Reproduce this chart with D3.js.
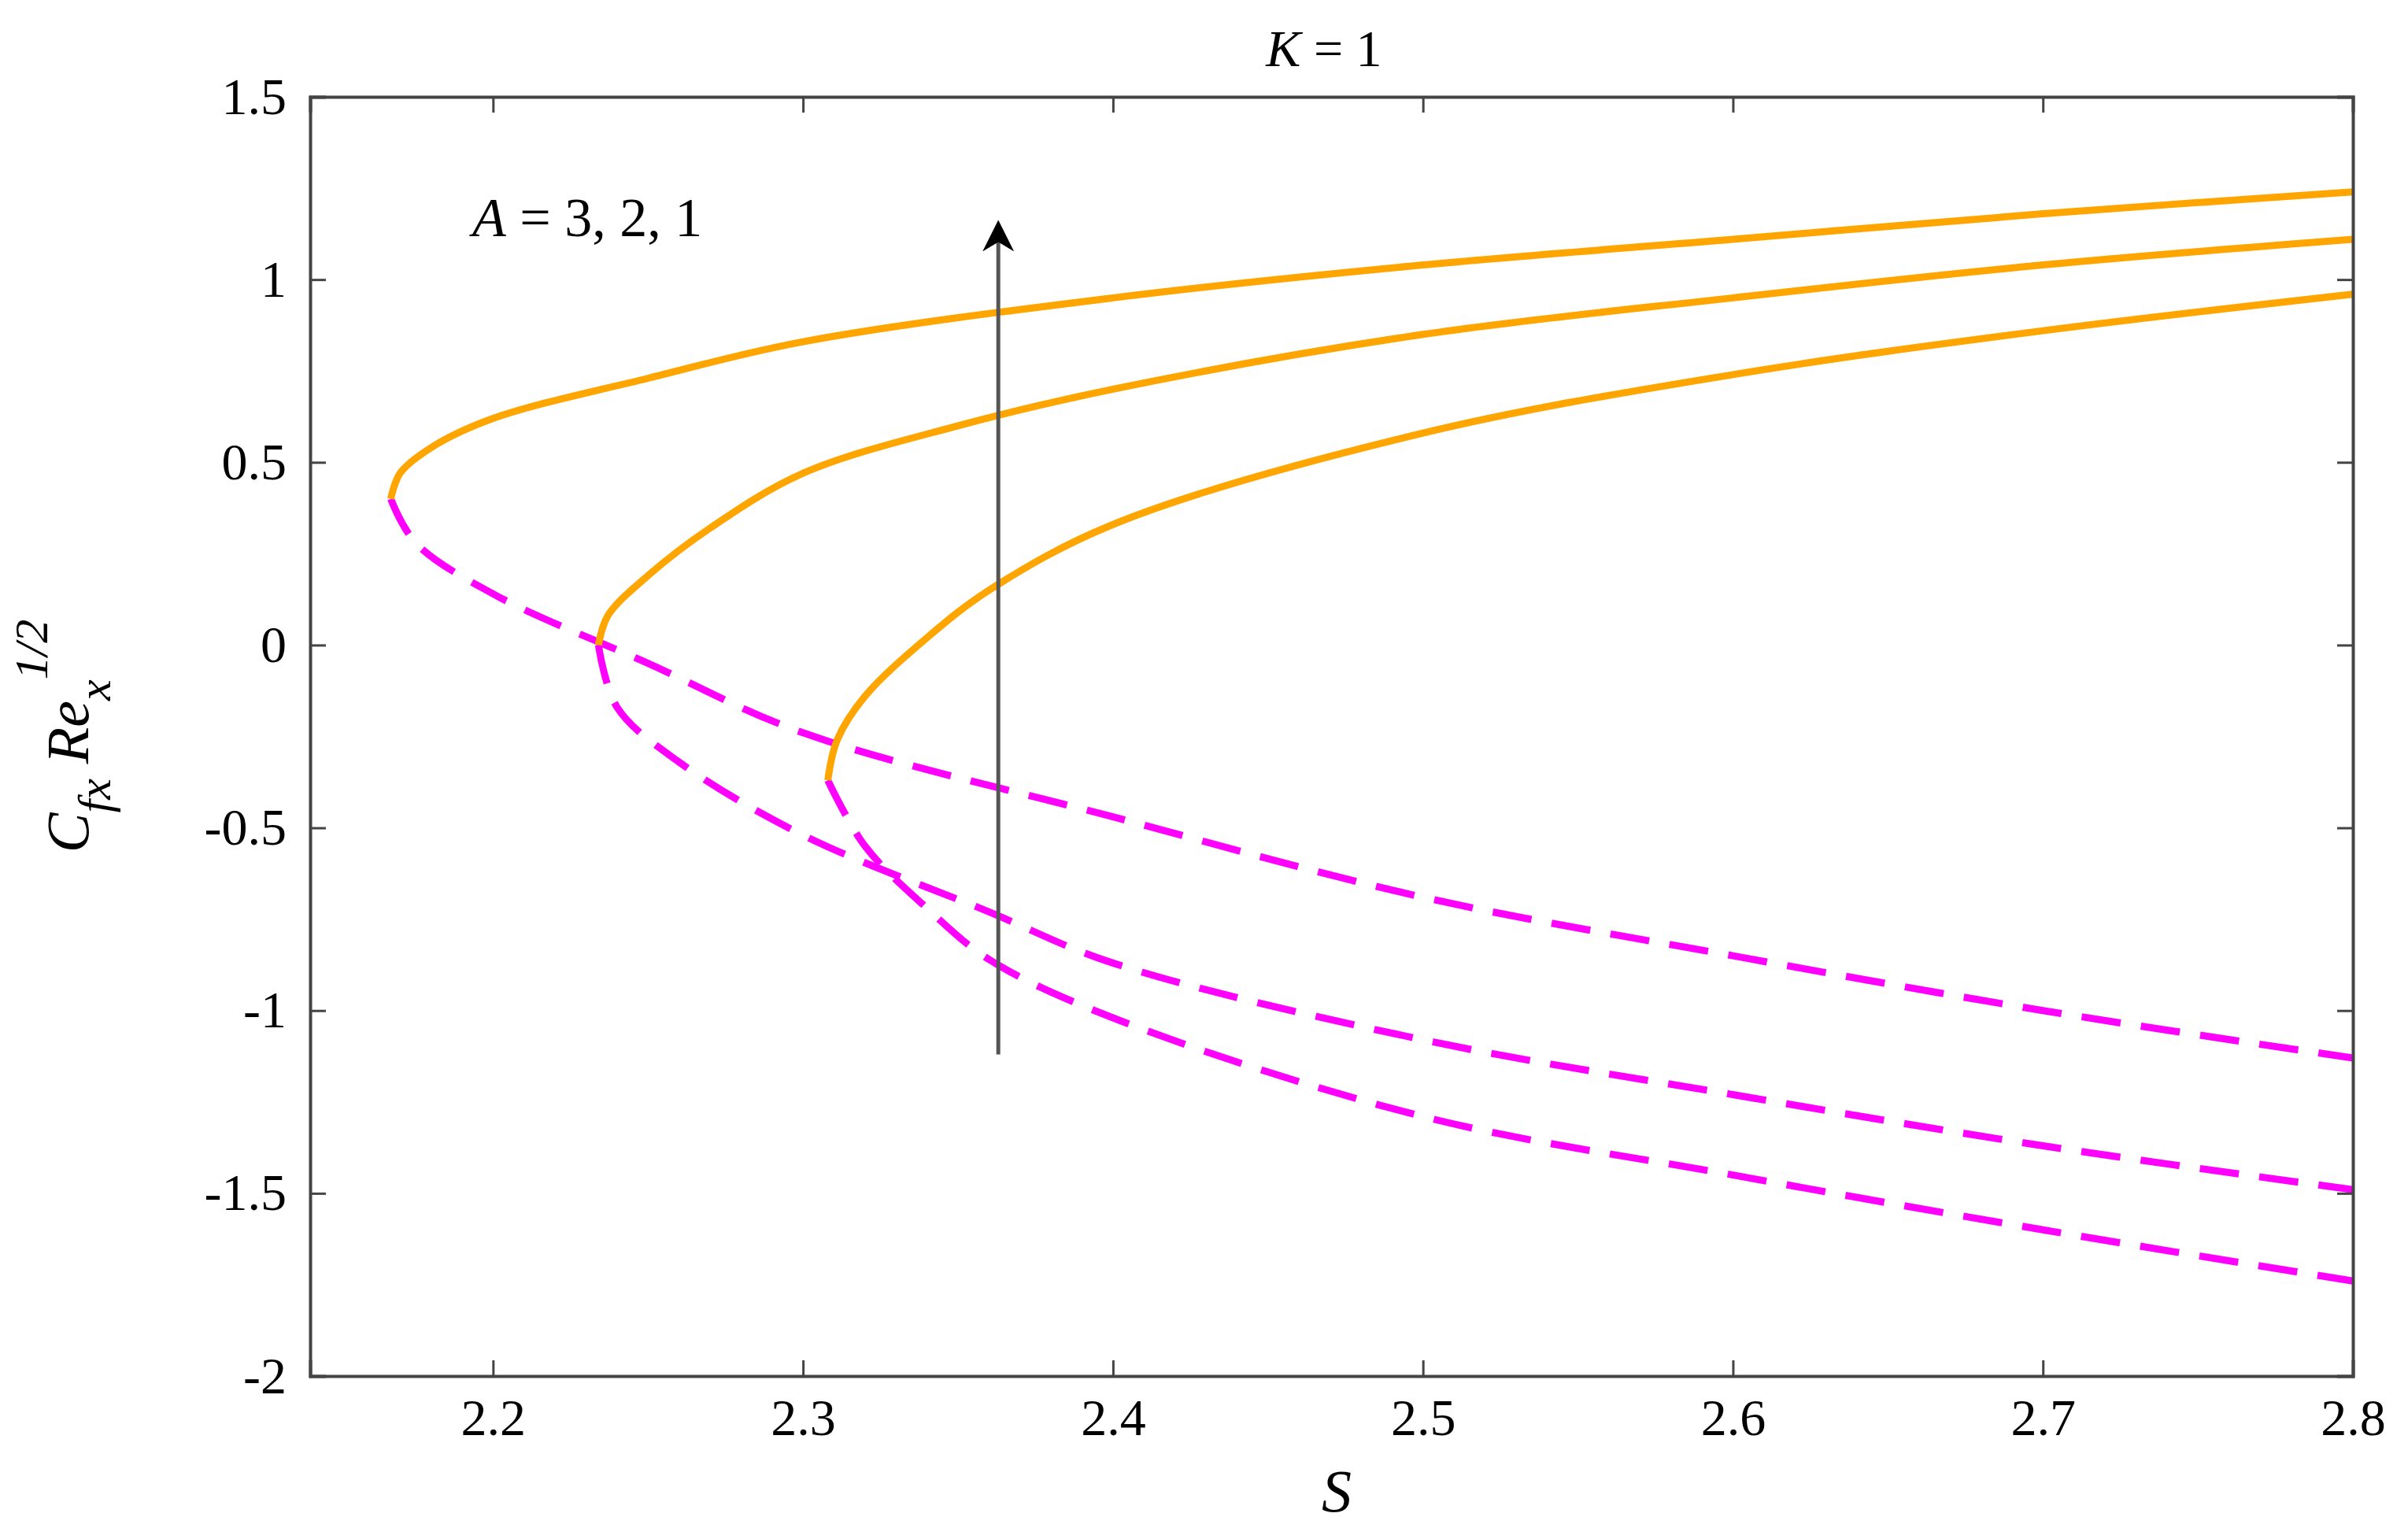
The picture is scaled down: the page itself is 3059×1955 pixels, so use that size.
<!DOCTYPE html>
<html><head><meta charset="utf-8">
<script src="https://cdn.jsdelivr.net/npm/d3@7"></script>
<style>body{margin:0;background:#fff}svg text{font-family:"Liberation Serif","Times New Roman",Times,serif !important}</style>
</head><body>
<svg id="chart" width="3059" height="1955"></svg>
<script>
// upper (stable) branches, A = 3, 2, 1
const solidA3 = [[2.167,0.40],[2.170,0.47],[2.180,0.54],[2.200,0.62],[2.250,0.73],[2.300,0.83],[2.400,0.95],[2.500,1.04],[2.600,1.11],[2.700,1.18],[2.800,1.24]];
const solidA2 = [[2.234,0.00],[2.237,0.08],[2.250,0.19],[2.270,0.32],[2.300,0.47],[2.350,0.60],[2.400,0.70],[2.500,0.85],[2.600,0.95],[2.700,1.04],[2.800,1.11]];
const solidA1 = [[2.308,-0.37],[2.311,-0.26],[2.320,-0.14],[2.340,0.02],[2.360,0.15],[2.400,0.33],[2.500,0.58],[2.600,0.74],[2.700,0.86],[2.800,0.96]];
// lower (unstable) branches
const dashA3 = [[2.167,0.40],[2.175,0.28],[2.200,0.14],[2.250,-0.05],[2.300,-0.24],[2.400,-0.47],[2.500,-0.69],[2.600,-0.85],[2.700,-1.00],[2.800,-1.13]];
const dashA2 = [[2.234,0.00],[2.240,-0.17],[2.260,-0.32],[2.300,-0.52],[2.360,-0.73],[2.400,-0.87],[2.500,-1.08],[2.600,-1.23],[2.700,-1.37],[2.800,-1.49]];
const dashA1 = [[2.308,-0.37],[2.320,-0.55],[2.340,-0.72],[2.360,-0.86],[2.400,-1.02],[2.500,-1.29],[2.600,-1.45],[2.700,-1.60],[2.800,-1.74]];
const xTicks = [2.2, 2.3, 2.4, 2.5, 2.6, 2.7, 2.8];
const yTicks = [1.5, 1, 0.5, 0, -0.5, -1, -1.5, -2];
const arrowS = 2.363, arrowFrom = -1.12, arrowTo = 1.12;

const svg = d3.select('#chart');
const L = 394, R = 2989, T = 123, B = 1748;
const x = d3.scaleLinear().domain([2.141, 2.8]).range([L, R]);
const y = d3.scaleLinear().domain([-2, 1.5]).range([B, T]);

svg.append('defs').append('marker').attr('id', 'ah')
  .attr('viewBox', '0 0 10 10').attr('refX', 5).attr('refY', 5)
  .attr('markerWidth', 8).attr('markerHeight', 10).attr('orient', 'auto')
  .append('path').attr('d', 'M0,0 L10,5 L0,10 L3,5 Z').attr('fill', '#000');

const line = d3.line().x(d => x(d[0])).y(d => y(d[1])).curve(d3.curveCatmullRom);
[dashA3, dashA2, dashA1].forEach(d => svg.append('path').attr('d', line(d))
  .attr('fill', 'none').attr('stroke', '#ff00ff').attr('stroke-width', 9).attr('stroke-dasharray', '50,26'));
[solidA3, solidA2, solidA1].forEach(d => svg.append('path').attr('d', line(d))
  .attr('fill', 'none').attr('stroke', '#ffa500').attr('stroke-width', 9));

svg.append('line').attr('x1', x(arrowS)).attr('x2', x(arrowS))
  .attr('y1', y(arrowFrom)).attr('y2', y(arrowTo))
  .attr('stroke', '#555').attr('stroke-width', 5).attr('marker-end', 'url(#ah)');

// axes with inside ticks on all four sides
const tl = 20;
const fmt = d => String(d);
svg.append('g').attr('transform', `translate(0,${B})`)
  .call(d3.axisBottom(x).tickValues(xTicks).tickSize(-tl).tickPadding(28).tickFormat(fmt));
svg.append('g').attr('transform', `translate(0,${T})`)
  .call(d3.axisTop(x).tickValues(xTicks).tickSize(-tl).tickFormat(''));
svg.append('g').attr('transform', `translate(${L},0)`)
  .call(d3.axisLeft(y).tickValues(yTicks).tickSize(-tl).tickPadding(30).tickFormat(fmt));
svg.append('g').attr('transform', `translate(${R},0)`)
  .call(d3.axisRight(y).tickValues(yTicks).tickSize(-tl).tickFormat(''));
svg.selectAll('.domain').attr('stroke', '#444').attr('stroke-width', 4);
svg.selectAll('.tick line').attr('stroke', '#444').attr('stroke-width', 3);
svg.selectAll('.tick text').attr('font-size', 66).attr('fill', '#000');

svg.append('text').attr('x', 1682).attr('y', 84).attr('text-anchor', 'middle').attr('font-size', 66)
  .html('<tspan font-style="italic">K</tspan> = 1');
svg.append('text').attr('x', 600).attr('y', 300).attr('font-size', 70)
  .html('<tspan font-style="italic">A</tspan> = 3, 2, 1');
svg.append('text').attr('x', 1698).attr('y', 1920).attr('text-anchor', 'middle').attr('font-size', 76)
  .attr('font-style', 'italic').text('S');
svg.append('text').attr('transform', 'translate(112,935) rotate(-90)').attr('text-anchor', 'middle')
  .attr('font-size', 76).attr('font-style', 'italic')
  .html('C<tspan dy="28" font-size="60">fx</tspan><tspan dy="-28"> Re</tspan><tspan dy="28" font-size="60">x</tspan><tspan dy="-80" font-size="60">1/2</tspan>');
</script>
</body></html>
